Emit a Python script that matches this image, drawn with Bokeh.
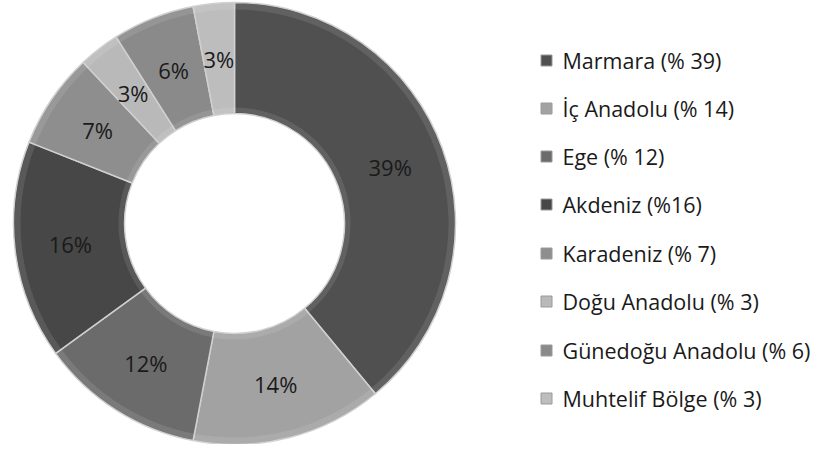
import numpy as np
from bokeh.plotting import figure
from bokeh.models import Range1d, ColumnDataSource
from bokeh.core.properties import value
from bokeh.embed import file_html
from bokeh.resources import INLINE

# Data
regions = ["Marmara", "İç Anadolu", "Ege", "Akdeniz", "Karadeniz",
           "Doğu Anadolu", "Günedoğu Anadolu", "Muhtelif Bölge"]
shares = [39, 14, 12, 16, 7, 3, 6, 3]
legend_labels = ["Marmara (% 39)", "İç Anadolu (% 14)", "Ege (% 12)", "Akdeniz (%16)",
                 "Karadeniz (% 7)", "Doğu Anadolu (% 3)", "Günedoğu Anadolu (% 6)",
                 "Muhtelif Bölge (% 3)"]
colors = ["#505050", "#a2a2a2", "#6b6b6b", "#474747", "#8e8e8e", "#b9b9b9", "#8a8a8a", "#bdbdbd"]

W, H = 822, 444
p = figure(width=W, height=H, output_backend="svg", toolbar_location=None,
           x_range=Range1d(0, W), y_range=Range1d(0, H), min_border=0)
p.axis.visible = False
p.grid.visible = False
p.outline_line_color = None
p.background_fill_color = "white"
p.border_fill_color = "white"

cx, cy = 234, 221
r_out, r_in = 221, 110

vals = np.array(shares, dtype=float)
frac = vals / vals.sum()
cum = np.concatenate([[0], np.cumsum(frac)])
start = np.pi / 2 - 2 * np.pi * cum[:-1]
end = np.pi / 2 - 2 * np.pi * cum[1:]
mid = (start + end) / 2
r_mid = (r_out + r_in) / 2

src = ColumnDataSource(dict(start=start, end=end, color=colors,
                            lx=cx + r_mid * np.cos(mid), ly=cy + r_mid * np.sin(mid),
                            lab=[f"{v}%" for v in shares]))

p.annular_wedge(x=cx, y=cy, inner_radius=r_in, outer_radius=r_out,
                start_angle="start", end_angle="end", direction="clock",
                fill_color="color", line_color="#d0d0d0", line_width=1.5, source=src)
# subtle bevel highlight near outer and inner edges
p.annular_wedge(x=cx, y=cy, inner_radius=r_out - 7, outer_radius=r_out - 1,
                start_angle="start", end_angle="end", direction="clock",
                fill_color="white", fill_alpha=0.1, line_color=None, source=src)
p.annular_wedge(x=cx, y=cy, inner_radius=r_in + 1, outer_radius=r_in + 6,
                start_angle="start", end_angle="end", direction="clock",
                fill_color="white", fill_alpha=0.1, line_color=None, source=src)

p.text(x="lx", y="ly", text="lab", source=src, text_align="center",
       text_baseline="middle", text_font=value("Open Sans"), text_font_size="22px",
       text_color="#1a1a1a")

# Legend
row_y = [60, 108, 156, 204, 253, 301, 350, 398]
ly = H - np.array(row_y, dtype=float)
lsrc = ColumnDataSource(dict(y=ly, color=colors, lab=legend_labels))
p.rect(x=546, y="y", width=11, height=11, fill_color="color", line_color="#9a9a9a",
       line_width=1, source=lsrc)
p.text(x=562, y="y", text="lab", source=lsrc, text_align="left", text_baseline="middle",
       text_font=value("Open Sans"), text_font_size="21.5px", text_color="#1a1a1a")

open("out.html", "w").write(file_html(p, INLINE))
